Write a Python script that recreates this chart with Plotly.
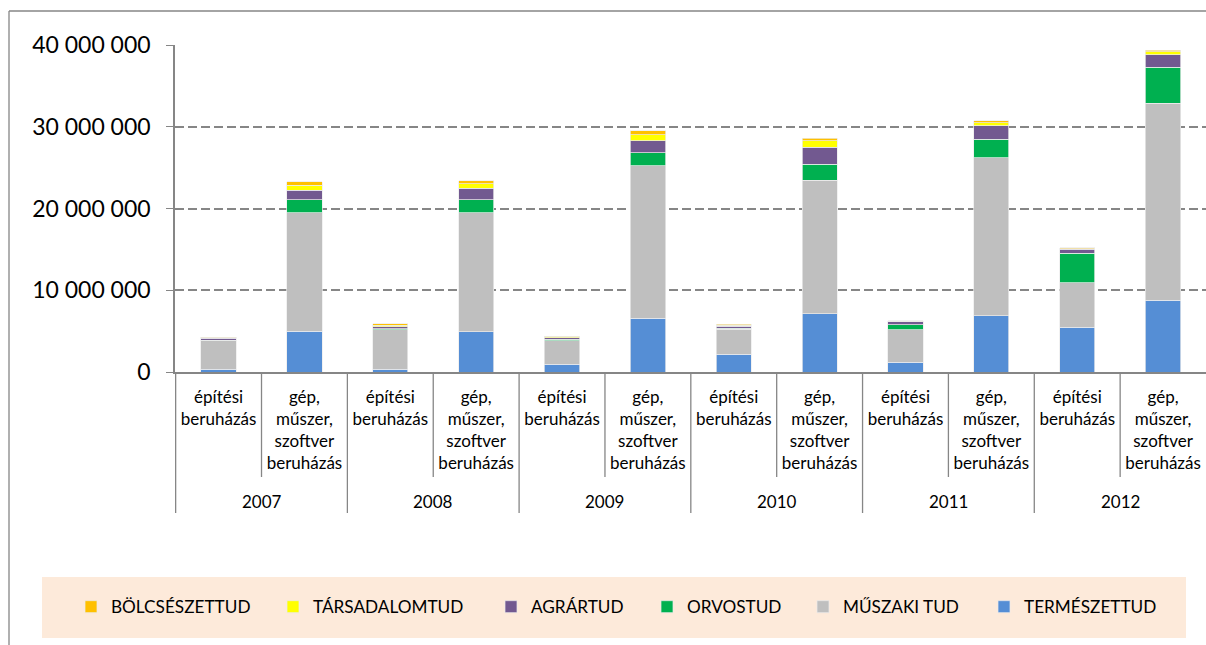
import plotly.graph_objects as go

# ---------------- data ----------------
years = ["2007", "2008", "2009", "2010", "2011", "2012"]
types = ["építési<br>beruházás", "gép,<br>műszer,<br>szoftver<br>beruházás"]

termeszet = [350000, 5000000, 350000, 4900000, 950000, 6600000, 2200000, 7100000, 1200000, 6900000, 5500000, 8800000]
muszaki = [3450000, 14500000, 4800000, 14600000, 2900000, 18650000, 3000000, 16350000, 3950000, 19300000, 5400000, 24100000]
orvos = [100000, 1600000, 120000, 1550000, 150000, 1600000, 160000, 1950000, 600000, 2250000, 3600000, 4400000]
agrar = [250000, 1150000, 280000, 1400000, 200000, 1430000, 250000, 2100000, 400000, 1670000, 500000, 1500000]
tarsadalom = [50000, 600000, 170000, 600000, 120000, 740000, 120000, 800000, 60000, 400000, 100000, 370000]
bolcsesz = [80000, 400000, 160000, 370000, 80000, 480000, 120000, 320000, 70000, 200000, 100000, 200000]

series_names = ["TERMÉSZETTUD", "MŰSZAKI TUD", "ORVOSTUD", "AGRÁRTUD", "TÁRSADALOMTUD", "BÖLCSÉSZETTUD"]
series_values = [termeszet, muszaki, orvos, agrar, tarsadalom, bolcsesz]
series_colors = ["#558ED5", "#BFBFBF", "#00B050", "#725990", "#FFFF00", "#FFC000"]

y_tickvals = [0, 10000000, 20000000, 30000000, 40000000]

# ---------------- layout constants (pixels) ----------------
W, H = 1206, 645
L, R, T, B = 175, 0, 45, 273
PW = W - L - R
PH = H - T - B
FONT = "Lato, 'DejaVu Sans', sans-serif"
AXC = "#868686"


def px_x(px):
    return (px - L) / PW


def px_y(py):
    return (H - B - py) / PH


categories = [f"{y}|{t}" for y in years for t in types]
cat_labels = [t for y in years for t in types]

fig = go.Figure()

# legend square left positions in reference
leg_sq = {"BÖLCSÉSZETTUD": 84, "TÁRSADALOMTUD": 286, "AGRÁRTUD": 504,
          "ORVOSTUD": 660, "MŰSZAKI TUD": 816, "TERMÉSZETTUD": 997}
leg_ids = {}
for i, name in enumerate(series_names):
    leg_ids[name] = "legend" if i == 0 else f"legend{i+1}"

for name, vals, col in zip(series_names, series_values, series_colors):
    fig.add_trace(go.Bar(
        name=name, x=categories, y=vals,
        marker=dict(color=col, line=dict(color="rgba(235,235,235,0.9)", width=0.8)),
        legend=leg_ids[name],
    ))

# ---------------- shapes: separators, frame, legend bg ----------------
shapes = []
# inner separators (between the two bars within a year)
for k in range(len(years)):
    xi = 2 * k + 0.5
    shapes.append(dict(type="line", xref="x", yref="paper", x0=xi, x1=xi,
                       y0=0, y1=px_y(477), line=dict(color=AXC, width=1.3)))
# year dividers
for k in range(len(years)):
    xi = 2 * k - 0.5
    shapes.append(dict(type="line", xref="x", yref="paper", x0=xi, x1=xi,
                       y0=0, y1=px_y(513), line=dict(color=AXC, width=1.3)))
# outer chart frame (partly visible)
shapes.append(dict(type="line", xref="paper", yref="paper", x0=px_x(9), x1=px_x(9),
                   y0=px_y(11), y1=px_y(650), line=dict(color=AXC, width=1.3)))
shapes.append(dict(type="line", xref="paper", yref="paper", x0=px_x(9), x1=px_x(1210),
                   y0=px_y(11), y1=px_y(11), line=dict(color=AXC, width=1.3)))
# legend background
shapes.append(dict(type="rect", xref="paper", yref="paper", x0=px_x(42), x1=px_x(1186),
                   y0=px_y(577), y1=px_y(638), fillcolor="#FDEADA", line=dict(width=0),
                   layer="below"))

# year labels
annotations = []
for k, yr in enumerate(years):
    annotations.append(dict(text=yr, xref="x", yref="paper", x=2 * k + 0.5, y=px_y(501),
                            showarrow=False, xanchor="center", yanchor="middle",
                            font=dict(family=FONT, size=17, color="#000000")))

layout_legends = {}
for name in series_names:
    lid = leg_ids[name]
    layout_legends[lid] = dict(
        xref="container", yref="container",
        x=(leg_sq[name] - 13) / W, xanchor="left",
        y=1 - 607 / H, yanchor="middle",
        bgcolor="rgba(0,0,0,0)", borderwidth=0,
        font=dict(family=FONT, size=17.2, color="#000000"),
        orientation="h", itemwidth=30,
        itemclick=False, itemdoubleclick=False,
    )

fig.update_layout(
    width=W, height=H,
    margin=dict(l=L, r=R, t=T, b=B, autoexpand=False),
    paper_bgcolor="white", plot_bgcolor="white",
    barmode="stack", bargap=0.59,
    separators=", ",
    font=dict(family=FONT, color="#000000"),
    showlegend=True,
    shapes=shapes,
    annotations=annotations,
    xaxis=dict(
        type="category", categoryorder="array", categoryarray=categories,
        tickvals=categories, ticktext=cat_labels,
        showline=True, linecolor=AXC, linewidth=1.5,
        ticks="", showgrid=False, zeroline=False,
        tickfont=dict(family=FONT, size=17, color="#000000"),
        ticklabelstandoff=9,
        automargin=False, fixedrange=True,
    ),
    yaxis=dict(
        range=[0, 40000000],
        tickvals=y_tickvals, tickformat=",d",
        showline=True, linecolor=AXC, linewidth=1.5,
        ticks="outside", ticklen=7, tickcolor=AXC, tickwidth=1.3,
        ticklabelstandoff=11,
        showgrid=True, gridcolor=AXC, gridwidth=1.5, griddash="9px,4px",
        zeroline=False,
        tickfont=dict(family=FONT, size=23, color="#000000"),
        automargin=False, fixedrange=True,
    ),
    **layout_legends,
)

fig.write_html(
    "out.html",
    config={"displayModeBar": False},
    post_script="document.body.style.margin='0';document.body.style.padding='0';document.body.style.overflow='hidden';",
)
